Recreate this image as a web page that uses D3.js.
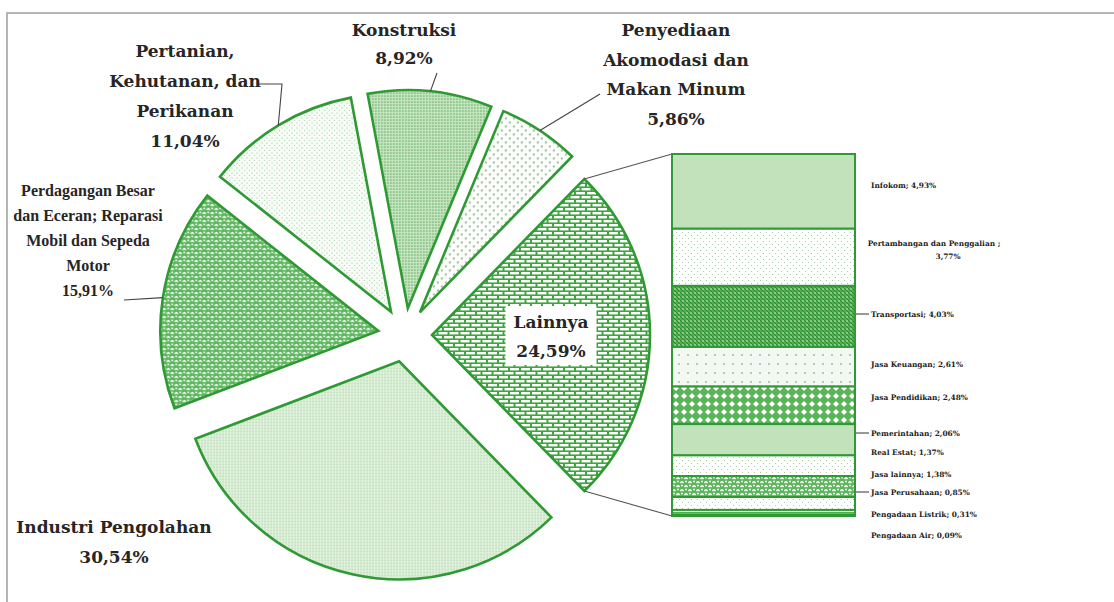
<!DOCTYPE html>
<html>
<head>
<meta charset="utf-8">
<script src="https://cdn.jsdelivr.net/npm/d3@7"></script>
<style>
body { margin: 0; background: #fff; }
</style>
</head>
<body>
<div id="chart"></div>
<script>
// main pie
var categories = ["Lainnya", "Industri Pengolahan", "Perdagangan Besar dan Eceran; Reparasi Mobil dan Sepeda Motor",
    "Pertanian, Kehutanan, dan Perikanan", "Konstruksi", "Penyediaan Akomodasi dan Makan Minum"];
var values = [24.59, 30.54, 15.91, 11.04, 8.92, 5.86];

// "Lainnya" broken down in the bar
var subCategories = ["Infokom", "Pertambangan dan Penggalian", "Transportasi", "Jasa Keuangan", "Jasa Pendidikan",
    "Pemerintahan", "Real Estat", "Jasa lainnya", "Jasa Perusahaan", "Pengadaan Listrik", "Pengadaan Air"];
var subValues = [4.93, 3.77, 4.03, 2.61, 2.48, 2.06, 1.37, 1.38, 0.85, 0.31, 0.09];

// label text split on lines
var labelLines = [["Lainnya"], ["Industri Pengolahan"],
    ["Perdagangan Besar", "dan Eceran; Reparasi", "Mobil dan Sepeda", "Motor"],
    ["Pertanian,", "Kehutanan, dan", "Perikanan"], ["Konstruksi"],
    ["Penyediaan", "Akomodasi dan", "Makan Minum"]];
var subLabelLines = [["Infokom; "], ["Pertambangan dan Penggalian ;", ""], ["Transportasi; "], ["Jasa Keuangan; "],
    ["Jasa Pendidikan; "], ["Pemerintahan; "], ["Real Estat; "], ["Jasa lainnya; "], ["Jasa Perusahaan; "],
    ["Pengadaan Listrik; "], ["Pengadaan Air; "]];

var width = 1114, height = 602;
var green = "#2f9a34";
var fmt = d3.formatLocale({decimal: ",", thousands: ".", grouping: [3], currency: ["", ""]}).format(".2f");

var svg = d3.select("#chart").append("svg")
    .attr("width", width)
    .attr("height", height);

// frame (only top and left are visible in the source)
svg.append("path")
    .attr("d", "M7,602 L7,13 L1114,13")
    .attr("fill", "none")
    .attr("stroke", "#b4b4b4")
    .attr("stroke-width", 2);

var defs = svg.append("defs");
function addPattern(id, w, h, bg, draw) {
    var p = defs.append("pattern")
        .attr("id", id)
        .attr("patternUnits", "userSpaceOnUse")
        .attr("width", w)
        .attr("height", h);
    p.append("rect").attr("width", w).attr("height", h).attr("fill", bg);
    draw(p);
}
addPattern("pFine", 3, 3, "#e3f2df", function(p) {
    p.append("circle").attr("cx", 1).attr("cy", 1).attr("r", 0.55).attr("fill", "#5aaa5a");
});
addPattern("pWeave", 8, 8, "#5cb45c", function(p) {
    p.append("path").attr("d", "M0.5,3 Q2,0.5 3.5,3 M4.5,7 Q6,4.5 7.5,7")
        .attr("fill", "none").attr("stroke", "#fff").attr("stroke-width", 1.5);
    p.append("circle").attr("cx", 6).attr("cy", 1.5).attr("r", 0.9).attr("fill", "#fff");
    p.append("circle").attr("cx", 2).attr("cy", 5.5).attr("r", 0.9).attr("fill", "#fff");
});
addPattern("pSparse", 5, 5, "#f8fcf7", function(p) {
    p.append("circle").attr("cx", 1).attr("cy", 1).attr("r", 0.6).attr("fill", "#80bf80");
    p.append("circle").attr("cx", 3.5).attr("cy", 3.5).attr("r", 0.6).attr("fill", "#a0cfa0");
});
addPattern("pDense", 3, 3, "#c9e6c3", function(p) {
    p.append("circle").attr("cx", 1).attr("cy", 1).attr("r", 0.8).attr("fill", "#4ea24e");
});
addPattern("pBigDots", 8, 8, "#fafdf9", function(p) {
    p.append("circle").attr("cx", 2).attr("cy", 2).attr("r", 1).attr("fill", "#8da68d");
    p.append("circle").attr("cx", 6).attr("cy", 6).attr("r", 1).attr("fill", "#8da68d");
});
addPattern("pBrick", 11, 8, "#3fa53f", function(p) {
    p.append("rect").attr("x", 1).attr("y", 1).attr("width", 9).attr("height", 2.4).attr("fill", "#fff");
    p.append("rect").attr("x", -4.5).attr("y", 5).attr("width", 9).attr("height", 2.4).attr("fill", "#fff");
    p.append("rect").attr("x", 6.5).attr("y", 5).attr("width", 9).attr("height", 2.4).attr("fill", "#fff");
});
addPattern("pDots", 6, 6, "#ffffff", function(p) {
    p.append("circle").attr("cx", 1.5).attr("cy", 1.5).attr("r", 0.6).attr("fill", "#9ac89a");
    p.append("circle").attr("cx", 4.5).attr("cy", 4.5).attr("r", 0.6).attr("fill", "#9ac89a");
});
addPattern("pDiag", 4, 4, "#52ad52", function(p) {
    p.append("path").attr("d", "M0,0 L4,4 M-1,3 L1,5 M3,-1 L5,1")
        .attr("stroke", "#2d8a2d").attr("stroke-width", 1);
    p.append("circle").attr("cx", 3).attr("cy", 1).attr("r", 0.7).attr("fill", "#e8f5e6");
});
addPattern("pCross", 9, 9, "#f3f9f2", function(p) {
    p.append("path").attr("d", "M3,3 L5,5 M5,3 L3,5")
        .attr("stroke", "#9cb89c").attr("stroke-width", 0.7);
});
addPattern("pDiamond", 8, 8, "#5ab45a", function(p) {
    p.append("path").attr("d", "M4,1 L7,4 L4,7 L1,4 Z").attr("fill", "#fff");
});
addPattern("pHoriz", 4, 4, "#ffffff", function(p) {
    p.append("rect").attr("y", 0).attr("width", 4).attr("height", 1.4).attr("fill", "#55b055");
});

var pieFills = ["url(#pBrick)", "url(#pFine)", "url(#pWeave)", "url(#pSparse)", "url(#pDense)", "url(#pBigDots)"];
var subFills = ["#c2e2bb", "url(#pDots)", "url(#pDiag)", "url(#pCross)", "url(#pDiamond)", "#c2e2bb",
    "url(#pDots)", "url(#pWeave)", "url(#pDots)", "url(#pHoriz)", "#6fbd6f"];

var cx = 405, cy = 335, radius = 218, explode = 27;
var total = d3.sum(values);
var otherAngle = 2 * Math.PI * values[0] / total;
var start = Math.PI / 2 - otherAngle / 2;

var pie = d3.pie()
    .sort(null)
    .value(function(d) { return d; })
    .startAngle(start)
    .endAngle(start + 2 * Math.PI);
var arc = d3.arc().innerRadius(0).outerRadius(radius);
var arcs = pie(values);

function offset(d) {
    var a = (d.startAngle + d.endAngle) / 2;
    return [cx + explode * Math.sin(a), cy - explode * Math.cos(a)];
}
function onArc(d, a) {
    var o = offset(d);
    return [o[0] + radius * Math.sin(a), o[1] - radius * Math.cos(a)];
}

var pieG = svg.append("g");
pieG.selectAll("path")
    .data(arcs)
    .enter()
    .append("path")
    .attr("transform", function(d) {
        var o = offset(d);
        return "translate(" + o[0] + "," + o[1] + ")";
    })
    .attr("d", arc)
    .attr("fill", function(d, i) { return pieFills[i]; })
    .attr("stroke", green)
    .attr("stroke-width", 2.6)
    .attr("stroke-linejoin", "miter");

// bar of "Lainnya"
var barX = 672, barW = 183;
var y = d3.scaleLinear()
    .domain([0, d3.sum(subValues)])
    .range([154, 516]);
var stacked = [];
var acc = 0;
subValues.forEach(function(v, i) {
    stacked.push({i: i, y0: acc, y1: acc + v});
    acc += v;
});

// connector lines
var other = arcs[0];
var topPt = onArc(other, other.startAngle);
var botPt = onArc(other, other.endAngle);
svg.append("path")
    .attr("d", "M" + topPt + " L" + barX + "," + y(0) + " M" + botPt + " L" + barX + "," + y(acc))
    .attr("stroke", "#555")
    .attr("stroke-width", 1.1)
    .attr("fill", "none");

svg.append("g").selectAll("rect")
    .data(stacked)
    .enter()
    .append("rect")
    .attr("x", barX)
    .attr("y", function(d) { return y(d.y0); })
    .attr("width", barW)
    .attr("height", function(d) { return y(d.y1) - y(d.y0); })
    .attr("fill", function(d) { return subFills[d.i]; })
    .attr("stroke", green)
    .attr("stroke-width", 2);

// labels of the bar
var subLabelY = [188, 246, 317, 367, 400, 436, 455, 477, 495, 517, 538];
var subLeader = [false, false, true, false, false, true, false, false, true, false, false];
var subG = svg.append("g")
    .attr("font-family", "DejaVu Serif")
    .attr("font-size", 7.4)
    .attr("font-weight", "bold")
    .attr("fill", "#222");
stacked.forEach(function(d) {
    var lines = subLabelLines[d.i];
    var txt = subG.append("text");
    if (lines.length > 1) {
        txt.attr("text-anchor", "middle")
            .attr("x", 934).attr("y", subLabelY[d.i]);
        txt.append("tspan").attr("x", 934).text(lines[0]);
        txt.append("tspan").attr("x", 948).attr("dy", 13).text(fmt(subValues[d.i]) + "%");
    } else {
        txt.attr("x", 871).attr("y", subLabelY[d.i])
            .text(lines[0] + fmt(subValues[d.i]) + "%");
    }
    if (subLeader[d.i]) {
        subG.append("line")
            .attr("x1", barX + barW + 1).attr("x2", 869)
            .attr("y1", subLabelY[d.i] - 3).attr("y2", subLabelY[d.i] - 3)
            .attr("stroke", "#333").attr("stroke-width", 1);
    }
});

// labels of the pie
var labelPos = [[551, 328, 29], [114, 533, 30], [88, 196, 25], [185, 57, 30], [404, 36, 28], [676, 36, 29.5]];
var labelFont = ["DejaVu Serif", "DejaVu Serif", "Liberation Serif", "DejaVu Serif", "DejaVu Serif", "DejaVu Serif"];
var labelSize = [17, 17, 16, 17, 17, 17];
var leaderStart = [null, null, [[124, 300]], [[259, 84], [282, 84]], [[437, 73]], [[600, 94]]];

arcs.forEach(function(d, i) {
    if (leaderStart[i]) {
        var pts = leaderStart[i].concat([onArc(d, (d.startAngle + d.endAngle) / 2)]);
        svg.append("path")
            .attr("d", d3.line()(pts))
            .attr("fill", "none")
            .attr("stroke", "#444")
            .attr("stroke-width", 1.1);
    }
});

var labG = svg.append("g")
    .attr("fill", "#262626")
    .attr("text-anchor", "middle");
arcs.forEach(function(d, i) {
    var lines = labelLines[i].concat([fmt(values[i]) + "%"]);
    var pos = labelPos[i];
    var g = labG.append("g");
    var bg = g.append("rect").attr("fill", "#fff");
    var t = g.append("text")
        .attr("font-family", labelFont[i])
        .attr("font-size", labelSize[i])
        .attr("font-weight", "bold");
    lines.forEach(function(s, k) {
        t.append("tspan")
            .attr("x", pos[0])
            .attr("y", pos[1] + k * pos[2])
            .text(s);
    });
    if (i === 0) {
        var b = t.node().getBBox();
        bg.attr("x", b.x - 8).attr("y", b.y - 6)
            .attr("width", b.width + 16).attr("height", b.height + 10);
    } else {
        bg.remove();
    }
});
</script>
</body>
</html>
